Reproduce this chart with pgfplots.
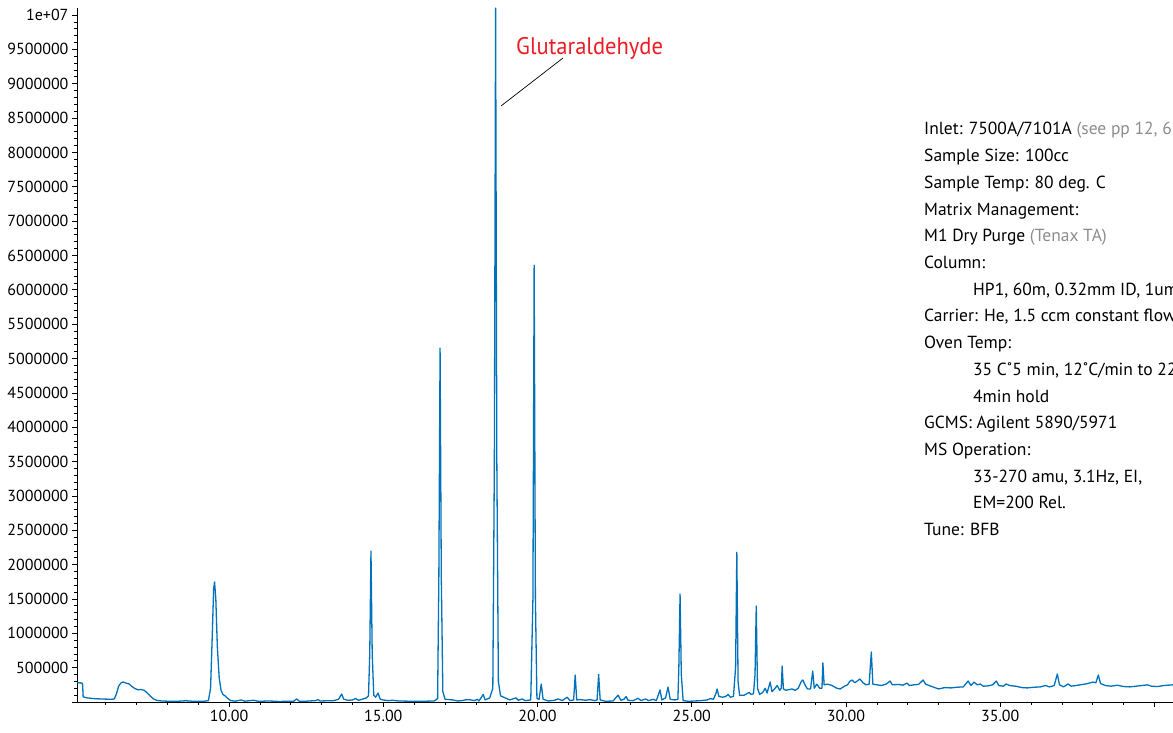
\documentclass[border=0pt]{standalone}
\usepackage{fontspec}
\setmainfont{PT Sans}
\newfontfamily\condfont[FakeStretch=0.94]{PT Sans}
\usepackage{pgfplots}
\pgfplotsset{compat=1.18}
\definecolor{trace}{RGB}{0,114,188}
\definecolor{lbl}{RGB}{237,28,36}
\definecolor{gry}{RGB}{140,140,140}

\pgfplotstableread{
x y
5.07 280000
5.20 278000
5.25 270000
5.27 75000
5.40 60000
5.60 50000
5.80 45000
6.00 42000
6.20 40000
6.28 45000
6.35 120000
6.42 230000
6.50 280000
6.57 292000
6.63 280000
6.70 270000
6.76 262000
6.85 225000
6.95 195000
7.05 178000
7.15 182000
7.25 170000
7.35 130000
7.45 85000
7.55 45000
7.65 25000
7.80 15000
8.00 12000
8.30 10000
8.60 18000
8.80 12000
9.00 10000
9.20 12000
9.33 20000
9.40 200000
9.45 900000
9.50 1650000
9.53 1747000
9.57 1500000
9.62 800000
9.68 350000
9.74 170000
9.80 110000
9.87 90000
9.95 55000
10.05 20000
10.20 12000
10.40 30000
10.50 12000
10.80 25000
10.95 10000
11.30 15000
11.60 8000
11.90 10000
12.10 12000
12.19 45000
12.28 10000
12.50 12000
12.80 20000
12.88 35000
12.95 15000
13.20 18000
13.40 20000
13.55 40000
13.65 115000
13.72 40000
13.85 25000
14.00 30000
14.10 50000
14.20 25000
14.35 45000
14.45 60000
14.52 90000
14.56 700000
14.60 2198000
14.64 700000
14.69 100000
14.75 70000
14.83 130000
14.90 40000
15.00 30000
15.15 20000
15.30 25000
15.50 15000
15.80 12000
16.10 10000
16.40 12000
16.65 15000
16.76 50000
16.80 1800000
16.84 5153000
16.88 1800000
16.93 150000
17.00 40000
17.26 30000
17.40 15000
17.55 20000
17.70 35000
17.85 30000
17.95 20000
18.05 40000
18.10 15000
18.24 110000
18.30 30000
18.45 60000
18.55 200000
18.60 3500000
18.64 10100000
18.68 3500000
18.73 300000
18.80 90000
18.95 60000
19.10 30000
19.30 60000
19.38 25000
19.50 45000
19.60 20000
19.78 30000
19.85 1500000
19.89 6360000
19.93 1500000
19.98 50000
20.05 40000
20.12 262000
20.18 40000
20.35 15000
20.55 25000
20.67 45000
20.80 20000
20.96 70000
21.05 20000
21.17 30000
21.22 393000
21.27 30000
21.40 35000
21.55 25000
21.70 35000
21.85 20000
21.93 30000
21.98 400000
22.03 30000
22.20 10000
22.45 15000
22.61 100000
22.70 25000
22.80 40000
22.87 80000
22.93 25000
23.10 20000
23.26 55000
23.35 20000
23.50 45000
23.60 20000
23.75 40000
23.85 20000
23.97 175000
24.03 30000
24.15 60000
24.23 218000
24.30 40000
24.45 30000
24.55 40000
24.58 500000
24.62 1572000
24.66 400000
24.72 20000
24.90 10000
25.10 15000
25.30 20000
25.50 30000
25.60 50000
25.70 40000
25.78 120000
25.82 190000
25.88 80000
26.00 70000
26.10 80000
26.18 110000
26.25 70000
26.35 80000
26.42 500000
26.46 2180000
26.50 300000
26.55 95000
26.70 100000
26.86 140000
26.92 110000
27.00 120000
27.05 400000
27.09 1397000
27.13 200000
27.20 110000
27.30 140000
27.38 200000
27.44 130000
27.54 290000
27.60 150000
27.70 200000
27.77 240000
27.85 170000
27.90 200000
27.93 524000
27.97 190000
28.05 170000
28.15 180000
28.25 190000
28.35 170000
28.45 200000
28.55 300000
28.60 320000
28.68 240000
28.75 190000
28.85 190000
28.92 450000
28.97 200000
29.05 260000
29.15 200000
29.22 200000
29.25 570000
29.29 250000
29.40 260000
29.55 240000
29.70 200000
29.81 190000
29.95 230000
30.05 250000
30.12 300000
30.20 320000
30.28 280000
30.38 310000
30.45 335000
30.55 280000
30.65 250000
30.75 260000
30.82 728000
30.87 260000
31.00 250000
31.15 240000
31.30 260000
31.43 305000
31.50 250000
31.70 255000
31.85 245000
31.98 276000
32.05 240000
32.20 250000
32.35 255000
32.50 320000
32.58 260000
32.75 230000
33.00 190000
33.20 210000
33.40 205000
33.60 215000
33.80 220000
33.96 305000
34.05 240000
34.15 290000
34.25 250000
34.35 262000
34.45 230000
34.60 235000
34.75 250000
34.87 305000
34.95 240000
35.10 230000
35.19 262000
35.30 240000
35.50 230000
35.70 210000
35.87 205000
36.10 215000
36.30 220000
36.46 240000
36.60 220000
36.75 240000
36.85 408000
36.92 250000
37.05 220000
37.20 262000
37.30 230000
37.45 240000
37.59 250000
37.80 265000
38.00 290000
38.10 280000
38.18 393000
38.25 270000
38.40 240000
38.60 230000
38.79 245000
39.00 225000
39.20 220000
39.40 230000
39.60 240000
39.77 250000
39.90 230000
40.10 225000
40.30 240000
40.60 250000
}\tic

\begin{document}
\begin{tikzpicture}
\useasboundingbox (0,0) rectangle (1173pt,732pt);
\clip (0,0) rectangle (1173pt,732pt);
\begin{axis}[
  at={(77pt,30pt)}, anchor=south west,
  scale only axis, width=1096pt, height=694pt,
  xmin=5.07, xmax=40.6, ymin=0, ymax=10102000,
  axis x line*=bottom, axis y line*=left,
  axis line style={black, line width=0.8pt, -},
  xtick={5,10,15,20,25,30,35,40},
  xticklabel={\ifdim\tick pt>37pt\relax\else\pgfmathprintnumber[fixed,fixed zerofill,precision=2,assume math mode=true]{\tick}\fi},
  minor x tick num=4,
  ytick={0,500000,1000000,1500000,2000000,2500000,3000000,3500000,4000000,4500000,5000000,5500000,6000000,6500000,7000000,7500000,8000000,8500000,9000000,9500000,10000000},
  yticklabels={,500000,1000000,1500000,2000000,2500000,3000000,3500000,4000000,4500000,5000000,5500000,6000000,6500000,7000000,7500000,8000000,8500000,9000000,9500000,1e+07},
  minor y tick num=4,
  scaled y ticks=false,
  tick align=outside,
  major tick length=5pt, minor tick length=3pt,
  tick style={black, line width=0.7pt},
  tick label style={font=\fontsize{16}{19}\selectfont, black},
]
\addplot[trace, line width=1.3pt, line join=round] table[x=x,y=y] {\tic};
\end{axis}

\draw[black, line width=0.7pt] (501pt,626pt) -- (563pt,674pt);
\node[anchor=base west, inner sep=0pt, text=lbl, font=\condfont\fontsize{24}{28}\selectfont] at (516pt,677.7pt) {Glutaraldehyde};

\begin{scope}[every node/.style={anchor=base west, inner sep=0pt, font=\fontsize{17.5}{20}\selectfont}]
\node at (924pt,597pt) {Inlet: 7500A/7101A \textcolor{gry}{(see pp 12, 6}};
\node at (924pt,570.3pt) {Sample Size: 100cc};
\node at (924pt,543.6pt) {Sample Temp: 80 deg. C};
\node at (924pt,516.9pt) {Matrix Management:};
\node at (924pt,490.2pt) {M1 Dry Purge \textcolor{gry}{(Tenax TA)}};
\node at (924pt,463.5pt) {Column:};
\node at (973pt,436.8pt) {HP1, 60m, 0.32mm ID, 1um};
\node at (924pt,410.1pt) {Carrier: He, 1.5 ccm constant flow};
\node at (924pt,383.4pt) {Oven Temp:};
\node at (973pt,356.7pt) {35 C˚5 min, 12˚C/min to 22};
\node at (973pt,330pt) {4min hold};
\node at (924pt,303.3pt) {GCMS: Agilent 5890/5971};
\node at (924pt,276.6pt) {MS Operation:};
\node at (973pt,249.9pt) {33-270 amu, 3.1Hz, EI,};
\node at (973pt,223.2pt) {EM=200 Rel.};
\node at (924pt,196.5pt) {Tune: BFB};
\end{scope}
\end{tikzpicture}
\end{document}
